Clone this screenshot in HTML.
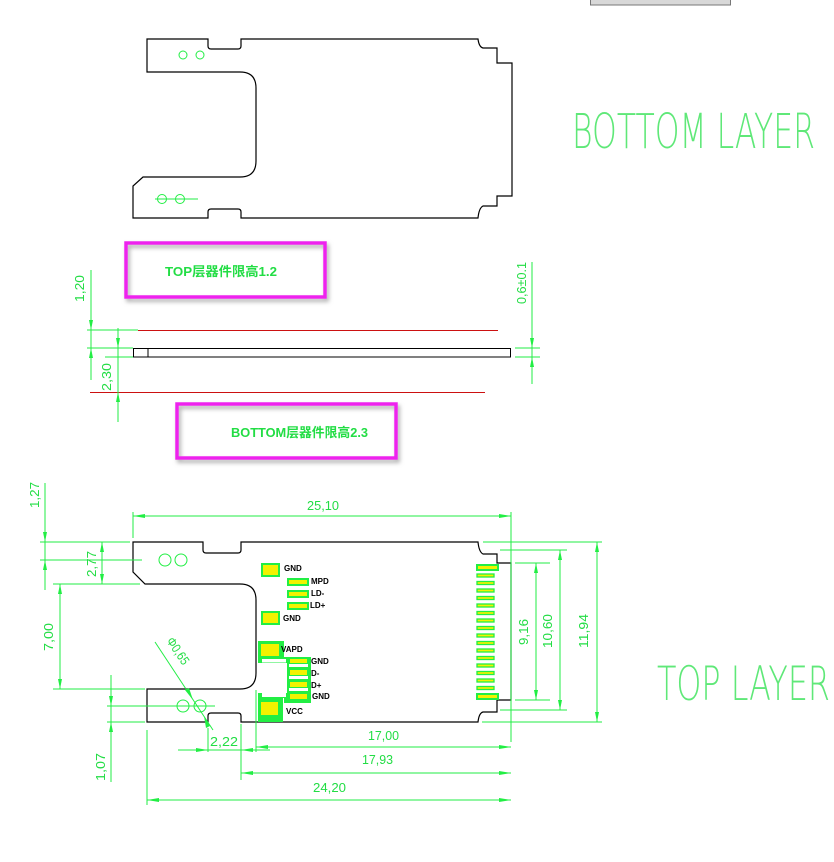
<!DOCTYPE html>
<html><head><meta charset="utf-8"><style>
html,body{margin:0;padding:0;background:#fff;}
svg{display:block;}
.t{font-family:"Liberation Sans","Noto Sans CJK SC",sans-serif;fill:#22dd44;}
.big{font-family:"DejaVu Sans","Liberation Sans",sans-serif;font-weight:200;fill:#5fe878;}
.g{stroke:#22ee44;stroke-width:1;fill:none;}
.k{stroke:#000;stroke-width:1.2;fill:none;}
.ar{fill:#22ee44;}
.pad{fill:#f2f200;stroke:#22ee44;stroke-width:2;}
.pl{font-family:"Liberation Sans",sans-serif;font-size:8px;fill:#000;font-weight:bold;}
</style></head><body>
<svg width="834" height="862" viewBox="0 0 834 862" xmlns="http://www.w3.org/2000/svg">
<defs>
<filter id="sh" x="-10%" y="-10%" width="130%" height="140%"><feDropShadow dx="2" dy="3" stdDeviation="2" flood-color="#888" flood-opacity="0.7"/></filter>
</defs>
<rect x="590.5" y="-2" width="140" height="7" fill="#d8d8d8" stroke="#777" stroke-width="1"/>

<!-- BOTTOM LAYER outline -->
<path class="k" d="M147,39 H208 V46 Q208,49 211,49 H238 Q241,49 241,46 V39 H478 Q479,47 483,48 H497 V63 H512 V196 H497 V206 H483 Q479,208 478,218 H241 V212 Q241,209 238,209 H211 Q208,209 208,212 V218 H133 V186 L143,177 H240 Q256,177 256,161 V88 Q256,72 240,72 H147 Z"/>
<circle class="g" cx="183" cy="55" r="4"/><circle class="g" cx="200" cy="55" r="4"/>
<circle class="g" cx="162" cy="199" r="4.5"/><circle class="g" cx="180" cy="199" r="4.5"/>
<line class="g" x1="155" y1="199" x2="198" y2="199"/>
<text class="big" x="572" y="148" font-size="48" textLength="243" lengthAdjust="spacingAndGlyphs">BOTTOM LAYER</text>

<!-- side view -->
<rect x="126" y="243" width="199" height="54" fill="none" stroke="#ee22ee" stroke-width="3.5" filter="url(#sh)"/>
<text class="t" x="165" y="276" font-size="13" textLength="112" lengthAdjust="spacingAndGlyphs" font-weight="bold">TOP层器件限高1.2</text>
<rect x="177" y="404" width="219" height="54" fill="none" stroke="#ee22ee" stroke-width="3.5" filter="url(#sh)"/>
<text class="t" x="231" y="437" font-size="13" textLength="137" lengthAdjust="spacingAndGlyphs" font-weight="bold">BOTTOM层器件限高2.3</text>
<line x1="138" y1="330.5" x2="498" y2="330.5" stroke="#cc1111" stroke-width="1"/>
<line x1="90" y1="392.5" x2="485" y2="392.5" stroke="#cc1111" stroke-width="1"/>
<rect x="133.5" y="348.5" width="377" height="8.5" fill="none" stroke="#000" stroke-width="1"/>
<line x1="148" y1="348" x2="148" y2="357" stroke="#000"/>
<g class="g">
<line x1="87" y1="330" x2="138" y2="330"/><line x1="87" y1="348" x2="133" y2="348"/><line x1="105" y1="357" x2="133" y2="357"/>
<line x1="91" y1="270" x2="91" y2="380"/><line x1="118" y1="328" x2="118" y2="422"/>
<line x1="532" y1="262" x2="532" y2="384"/><line x1="515" y1="348" x2="540" y2="348"/><line x1="515" y1="357" x2="540" y2="357"/>
</g>
<g class="ar">
<path d="M91,330 l-2,-10 h4z"/><path d="M91,348 l-2,10 h4z"/>
<path d="M118,348 l-2,-10 h4z"/><path d="M118,392 l-2,10 h4z"/>
<path d="M532,348 l-2,-10 h4z"/><path d="M532,357 l-2,10 h4z"/>
</g>
<text class="t" font-size="13" transform="translate(84,302) rotate(-90)" textLength="27" lengthAdjust="spacingAndGlyphs">1,20</text>
<text class="t" font-size="13" transform="translate(111,391) rotate(-90)" textLength="28" lengthAdjust="spacingAndGlyphs">2,30</text>
<text class="t" font-size="13" transform="translate(526,304) rotate(-90)" textLength="42" lengthAdjust="spacingAndGlyphs">0,6±0.1</text>

<!-- TOP LAYER outline -->
<path class="k" d="M133,542 H203 V550 Q203,553 206,553 H238 Q241,553 241,550 V542 H478 Q479,552 483,554 H497 V563 H511 V700 H497 V712 H483 Q479,713 478,722 H241 V716 Q241,713 238,713 H211 Q208,713 208,716 V722 H147 V689 H240 Q256,689 256,673 V600 Q256,584 240,584 H145 L133,572 Z"/>
<circle class="g" cx="165" cy="560" r="6" stroke-width="1.5"/><circle class="g" cx="181" cy="560" r="6" stroke-width="1.5"/>
<circle class="g" cx="183" cy="706" r="6" stroke-width="1.5"/><circle class="g" cx="200" cy="706" r="6" stroke-width="1.5"/>

<!-- pads -->
<rect class="pad" x="262" y="564" width="17" height="12"/>
<rect class="pad" x="288" y="579" width="20" height="6"/>
<rect class="pad" x="288" y="591" width="20" height="6"/>
<rect class="pad" x="288" y="603" width="20" height="6"/>
<rect class="pad" x="262" y="612" width="17" height="12"/>
<path d="M258,641 H284 V657 H311 V703 H284 V698 H258 Z" fill="#22ee44"/>
<rect x="262" y="659" width="24" height="3.5" fill="#fff"/>
<rect x="258" y="663" width="29" height="30" fill="#fff"/>
<rect x="262" y="693" width="24" height="4" fill="#fff"/>
<rect x="289" y="664" width="19" height="3" fill="#fff"/><rect x="289" y="676" width="19" height="3" fill="#fff"/><rect x="289" y="688" width="19" height="3" fill="#fff"/>
<rect x="261" y="644" width="18" height="12" fill="#f2f200"/>
<rect x="290" y="659" width="17" height="4" fill="#f2f200"/><rect x="290" y="670" width="17" height="5" fill="#f2f200"/><rect x="290" y="682" width="17" height="5" fill="#f2f200"/><rect x="290" y="694" width="17" height="5" fill="#f2f200"/>
<rect x="258" y="698" width="25" height="24" fill="#22ee44"/>
<rect x="261" y="702" width="17" height="13" fill="#f2f200"/>
<text class="pl" x="284" y="571">GND</text>
<text class="pl" x="311" y="584">MPD</text>
<text class="pl" x="311" y="596">LD-</text>
<text class="pl" x="310" y="608">LD+</text>
<text class="pl" x="283" y="621">GND</text>
<text class="pl" x="281" y="652">VAPD</text>
<text class="pl" x="311" y="664">GND</text>
<text class="pl" x="311" y="676">D-</text>
<text class="pl" x="311" y="688">D+</text>
<text class="pl" x="312" y="699">GND</text>
<text class="pl" x="286" y="714">VCC</text>

<!-- connector pins -->
<rect class="pad" x="477" y="565" width="21" height="5" stroke-width="1.5"/>
<rect class="pad" x="477" y="694" width="21" height="5" stroke-width="1.5"/>
<g fill="#f2f200" stroke="#22ee44" stroke-width="1.3">
<rect x="477" y="574" width="17" height="3"/><rect x="477" y="581.5" width="17" height="3"/><rect x="477" y="589" width="17" height="3"/><rect x="477" y="596.5" width="17" height="3"/>
<rect x="477" y="604" width="17" height="3"/><rect x="477" y="611.5" width="17" height="3"/><rect x="477" y="619" width="17" height="3"/><rect x="477" y="626.5" width="17" height="3"/>
<rect x="477" y="634" width="17" height="3"/><rect x="477" y="641.5" width="17" height="3"/><rect x="477" y="649" width="17" height="3"/><rect x="477" y="656.5" width="17" height="3"/>
<rect x="477" y="664" width="17" height="3"/><rect x="477" y="671.5" width="17" height="3"/><rect x="477" y="679" width="17" height="3"/><rect x="477" y="686.5" width="17" height="3"/>
</g>

<!-- dimensions -->
<g class="g">
<line x1="133" y1="512" x2="133" y2="538"/><line x1="511" y1="512" x2="511" y2="742"/>
<line x1="133" y1="516" x2="511" y2="516"/>
<line x1="40" y1="542" x2="130" y2="542"/><line x1="40" y1="560" x2="142" y2="560"/>
<line x1="45" y1="483" x2="45" y2="590"/>
<line x1="102" y1="542" x2="102" y2="584"/>
<line x1="53" y1="584" x2="140" y2="584"/><line x1="53" y1="689" x2="145" y2="689"/>
<line x1="60" y1="584" x2="60" y2="689"/>
<line x1="107" y1="706" x2="215" y2="706"/><line x1="107" y1="722" x2="145" y2="722"/>
<line x1="111" y1="675" x2="111" y2="782"/>
<line x1="155" y1="642" x2="213" y2="730"/>
<line x1="208" y1="728" x2="208" y2="752"/><line x1="241" y1="724" x2="241" y2="780"/>
<line x1="178" y1="750" x2="270" y2="750"/>
<line x1="256" y1="690" x2="256" y2="752"/>
<line x1="256" y1="747" x2="511" y2="747"/>
<line x1="241" y1="773" x2="511" y2="773"/>
<line x1="147" y1="730" x2="147" y2="805"/>
<line x1="147" y1="800" x2="511" y2="800"/>
<line x1="515" y1="563" x2="550" y2="563"/><line x1="515" y1="700" x2="550" y2="700"/>
<line x1="536" y1="563" x2="536" y2="700"/>
<line x1="500" y1="550" x2="567" y2="550"/><line x1="500" y1="710" x2="567" y2="710"/>
<line x1="560" y1="550" x2="560" y2="710"/>
<line x1="483" y1="542" x2="602" y2="542"/><line x1="482" y1="722" x2="602" y2="722"/>
<line x1="597" y1="542" x2="597" y2="722"/>
</g>
<g class="ar">
<path d="M133,516 l12,-2 v4z"/><path d="M511,516 l-12,-2 v4z"/>
<path d="M45,542 l-2,-10 h4z"/><path d="M45,560 l-2,10 h4z"/>
<path d="M102,542 l-2,10 h4z"/><path d="M102,584 l-2,-10 h4z"/>
<path d="M60,584 l-2,10 h4z"/><path d="M60,689 l-2,-10 h4z"/>
<path d="M111,706 l-2,-10 h4z"/><path d="M111,722 l-2,10 h4z"/>
<path d="M208,750 l-12,-2 v4z"/><path d="M241,750 l12,-2 v4z"/>
<path d="M256,747 l12,-2 v4z"/><path d="M511,747 l-12,-2 v4z"/>
<path d="M241,773 l12,-2 v4z"/><path d="M511,773 l-12,-2 v4z"/>
<path d="M147,800 l12,-2 v4z"/><path d="M511,800 l-12,-2 v4z"/>
<path d="M536,563 l-2,10 h4z"/><path d="M536,700 l-2,-10 h4z"/>
<path d="M560,550 l-2,10 h4z"/><path d="M560,710 l-2,-10 h4z"/>
<path d="M597,542 l-2,10 h4z"/><path d="M597,722 l-2,-10 h4z"/>
<path d="M193,700 l-8,-10 l4,-2z"/><path d="M204,716 l6,10 l-4,2z"/>
</g>
<g class="t" font-size="13">
<text x="307" y="510" textLength="32" lengthAdjust="spacingAndGlyphs">25,10</text>
<text transform="translate(39,508) rotate(-90)" textLength="26" lengthAdjust="spacingAndGlyphs">1,27</text>
<text transform="translate(96,577) rotate(-90)" textLength="26" lengthAdjust="spacingAndGlyphs">2,77</text>
<text transform="translate(53,651) rotate(-90)" textLength="28" lengthAdjust="spacingAndGlyphs">7,00</text>
<text transform="translate(105,781) rotate(-90)" textLength="28" lengthAdjust="spacingAndGlyphs">1,07</text>
<text transform="translate(166,641) rotate(56)" textLength="30" lengthAdjust="spacingAndGlyphs">Φ0,65</text>
<text x="210" y="746" textLength="28" lengthAdjust="spacingAndGlyphs">2,22</text>
<text x="368" y="740" textLength="31" lengthAdjust="spacingAndGlyphs">17,00</text>
<text x="362" y="764" textLength="31" lengthAdjust="spacingAndGlyphs">17,93</text>
<text x="313" y="792" textLength="33" lengthAdjust="spacingAndGlyphs">24,20</text>
<text transform="translate(528,645) rotate(-90)" textLength="26" lengthAdjust="spacingAndGlyphs">9,16</text>
<text transform="translate(552,648) rotate(-90)" textLength="34" lengthAdjust="spacingAndGlyphs">10,60</text>
<text transform="translate(588,648) rotate(-90)" textLength="34" lengthAdjust="spacingAndGlyphs">11,94</text>
</g>
<text class="big" x="657" y="700" font-size="47" textLength="173" lengthAdjust="spacingAndGlyphs">TOP LAYER</text>
</svg>
</body></html>
